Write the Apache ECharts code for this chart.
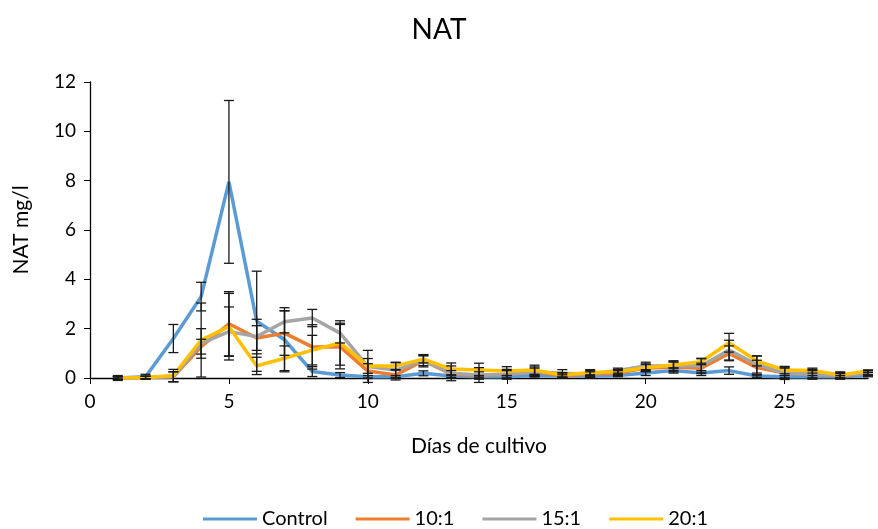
<!DOCTYPE html>
<html>
<head>
<meta charset="utf-8">
<script src="https://cdn.jsdelivr.net/npm/echarts@6/dist/echarts.min.js"></script>
<style>
    html, body { margin: 0; padding: 0; background: #fff; }
    #nat { width: 878px; height: 529px; }
</style>
</head>
<body>
<div id="nat"></div>
<script>
// días de cultivo
var dias = [1, 2, 3, 4, 5, 6, 7, 8, 9, 10, 11, 12, 13, 14, 15, 16, 17, 18, 19, 20, 21, 22, 23, 24, 25, 26, 27, 28];

// NAT mg/l por tratamiento
var control = [0, 0.05, 1.6, 3.3, 7.95, 2.3, 1.55, 0.26, 0.12, 0.05, 0.05, 0.19, 0.08, 0.05, 0.05, 0.1, 0.08, 0.08, 0.1, 0.2, 0.3, 0.2, 0.3, 0.08, 0.05, 0.05, 0.05, 0.1];
var t10 = [0, 0.02, 0.05, 1.27, 2.2, 1.62, 1.82, 1.26, 1.27, 0.28, 0.12, 0.7, 0.15, 0.1, 0.15, 0.25, 0.1, 0.15, 0.2, 0.4, 0.45, 0.4, 1.0, 0.42, 0.2, 0.15, 0.08, 0.2];
var t15 = [0, 0.02, 0.05, 1.4, 1.88, 1.68, 2.28, 2.43, 1.82, 0.47, 0.32, 0.7, 0.19, 0.12, 0.15, 0.25, 0.19, 0.15, 0.3, 0.49, 0.5, 0.5, 1.13, 0.55, 0.19, 0.15, 0.1, 0.2];
var t20 = [0, 0.02, 0.1, 1.54, 2.08, 0.49, 0.8, 1.13, 1.42, 0.49, 0.49, 0.76, 0.36, 0.32, 0.28, 0.32, 0.12, 0.22, 0.25, 0.42, 0.53, 0.66, 1.43, 0.69, 0.32, 0.3, 0.12, 0.28];

// desviación estándar
var controlErr = [0.1, 0.1, 0.57, 0.58, 3.3, 2.03, 1.3, 0.2, 0.1, 0.05, 0.05, 0.1, 0.05, 0.05, 0.05, 0.05, 0.05, 0.05, 0.05, 0.1, 0.1, 0.1, 0.15, 0.05, 0.05, 0.05, 0.05, 0.05];
var t10Err = [0.05, 0.05, 0.2, 0.3, 1.3, 0.5, 0.9, 0.9, 0.9, 0.3, 0.2, 0.2, 0.15, 0.15, 0.15, 0.15, 0.1, 0.1, 0.1, 0.15, 0.2, 0.2, 0.3, 0.3, 0.2, 0.15, 0.1, 0.1];
var t15Err = [0.05, 0.05, 0.2, 0.6, 1.0, 0.7, 0.45, 0.35, 0.4, 0.65, 0.3, 0.25, 0.3, 0.3, 0.2, 0.2, 0.15, 0.15, 0.1, 0.15, 0.2, 0.3, 0.4, 0.35, 0.25, 0.2, 0.15, 0.1];
var t20Err = [0.05, 0.05, 0.25, 1.5, 1.35, 0.35, 0.5, 0.6, 0.9, 0.3, 0.15, 0.15, 0.25, 0.28, 0.18, 0.2, 0.1, 0.12, 0.1, 0.15, 0.12, 0.12, 0.38, 0.2, 0.15, 0.1, 0.1, 0.05];

var nombres = ['Control', '10:1', '15:1', '20:1'];
var colores = ['#5B9BD5', '#ED7D31', '#A5A5A5', '#FFC000'];
var FONT = 'Lato';

function puntos(vals) {
    return dias.map(function(d, i) { return [d, vals[i]]; });
}

function barras(vals, errs) {
    return dias.map(function(d, i) { return [d, vals[i] - errs[i], vals[i] + errs[i]]; });
}

// barra de error
function renderError(params, api) {
    var lo = api.coord([api.value(0), api.value(1)]);
    var hi = api.coord([api.value(0), api.value(2)]);
    var w = 5;
    var st = { stroke: '#1a1a1a', lineWidth: 1.3 };
    return {
        type: 'group',
        children: [
            { type: 'line', shape: { x1: hi[0], y1: hi[1], x2: lo[0], y2: lo[1] }, style: st },
            { type: 'line', shape: { x1: hi[0] - w, y1: hi[1], x2: hi[0] + w, y2: hi[1] }, style: st },
            { type: 'line', shape: { x1: lo[0] - w, y1: lo[1], x2: lo[0] + w, y2: lo[1] }, style: st }
        ]
    };
}

var valores = [control, t10, t15, t20];
var errores = [controlErr, t10Err, t15Err, t20Err];
var series = [];

valores.forEach(function(v, k) {
    series.push({
        name: nombres[k],
        type: 'line',
        data: puntos(v),
        showSymbol: false,
        symbol: 'none',
        lineStyle: { width: 3.5, color: colores[k] },
        itemStyle: { color: colores[k] },
        z: 2 + k
    });
});
valores.forEach(function(v, k) {
    series.push({
        type: 'custom',
        renderItem: renderError,
        data: barras(v, errores[k]),
        silent: true,
        z: 10
    });
});

echarts.init(document.getElementById('nat')).setOption({
    animation: false,
    textStyle: { fontFamily: FONT },
    title: {
        text: 'NAT',
        left: 'center',
        top: 11,
        textStyle: { fontFamily: FONT, fontSize: 28, fontWeight: 'normal', color: '#000' }
    },
    legend: {
        data: nombres,
        top: 504,
        left: 198,
        icon: 'rect',
        itemWidth: 54,
        itemHeight: 3,
        itemGap: 28,
        textStyle: { fontFamily: FONT, fontSize: 20, color: '#000' }
    },
    grid: {
        left: 90,
        right: 10,
        top: 82,
        bottom: 151
    },
    xAxis: {
        type: 'value',
        min: 0,
        max: 28,
        interval: 5,
        name: 'Días de cultivo',
        nameLocation: 'middle',
        nameGap: 58,
        nameTextStyle: { fontFamily: FONT, fontSize: 21, color: '#000' },
        axisLine: { lineStyle: { color: '#000', width: 1.3 } },
        axisTick: { show: true, length: 6, lineStyle: { color: '#000' } },
        axisLabel: { showMaxLabel: false, fontFamily: FONT, fontSize: 19, color: '#000', margin: 14 },
        splitLine: { show: false }
    },
    yAxis: {
        type: 'value',
        min: 0,
        max: 12,
        interval: 2,
        name: 'NAT mg/l',
        nameLocation: 'middle',
        nameGap: 58,
        nameTextStyle: { fontFamily: FONT, fontSize: 21, color: '#000' },
        axisLine: { show: true, lineStyle: { color: '#000', width: 1.3 } },
        axisTick: { show: true, length: 6, lineStyle: { color: '#000' } },
        axisLabel: { fontFamily: FONT, fontSize: 19, color: '#000', margin: 14 },
        splitLine: { show: false }
    },
    series: series
});
</script>
</body>
</html>
